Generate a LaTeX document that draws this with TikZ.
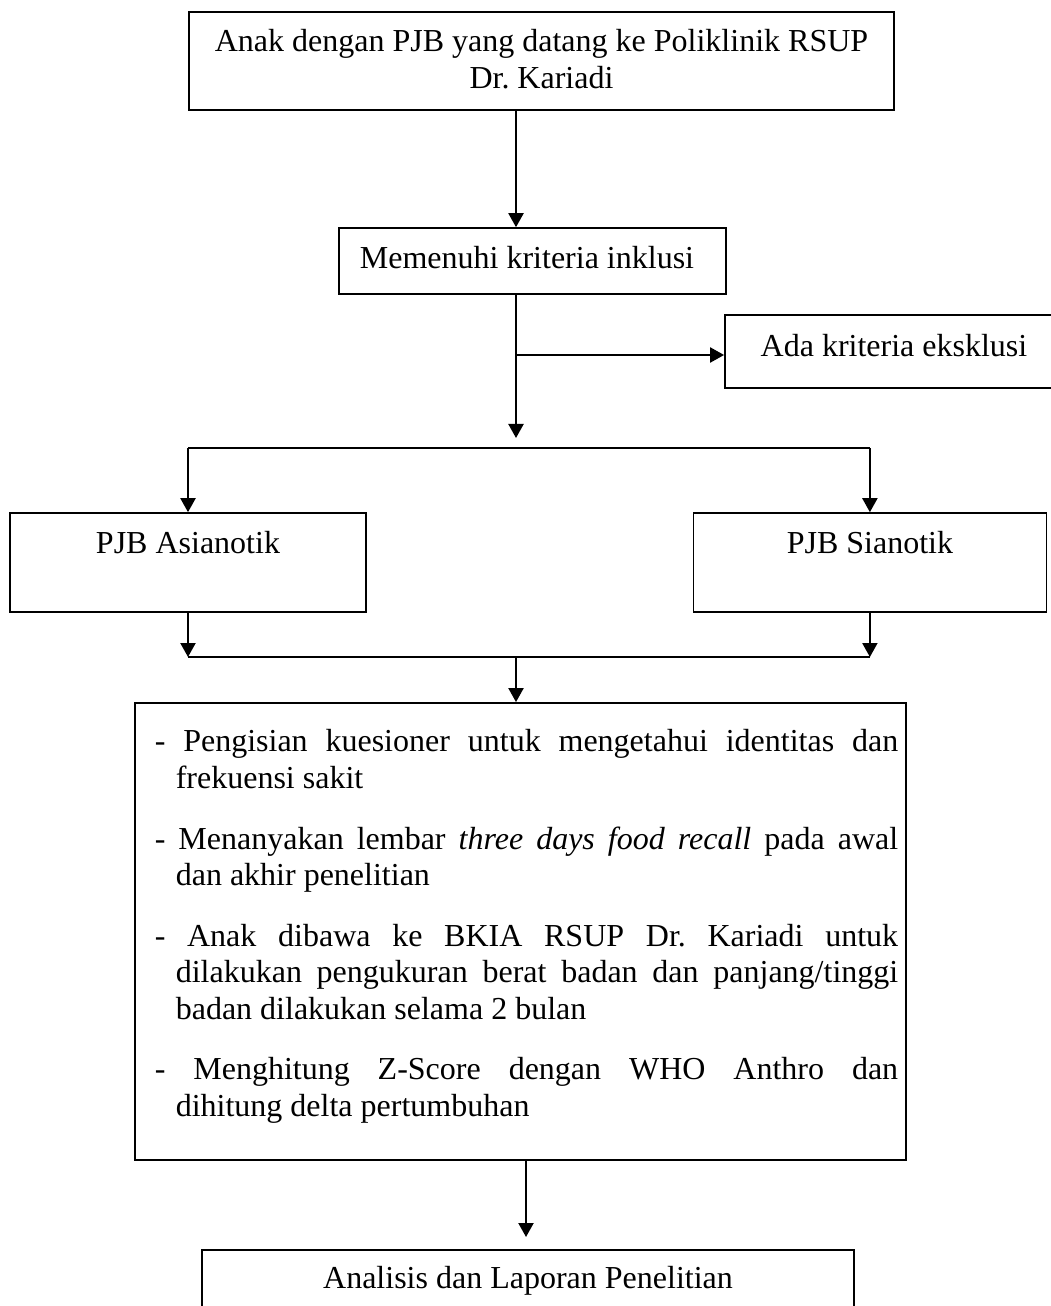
\documentclass[tikz,border=0pt]{standalone}
\usepackage{fontspec}
\setmainfont{Liberation Serif}
\usetikzlibrary{positioning,arrows.meta}
\tikzstyle{kotak} = [rectangle, draw, line width=0.45pt, inner sep=0pt, align=center]
\tikzstyle{panah} = [-{Triangle[length=0.14cm,width=0.15cm]}, black, line width=0.6pt]
\tikzstyle{garis} = [black, line width=0.6pt]
\newcommand{\butir}[1]{\hangindent=0.21cm\hangafter=1 - #1\par}
\frenchspacing

\begin{document}
\begin{tikzpicture}[x=0.01cm, y=-0.01cm, font=\fontsize{9.1pt}{10.4pt}\selectfont]
  \useasboundingbox (0,0) rectangle (1050,1306);
  % Place nodes
  \node [kotak, minimum width=7.05cm, text width=6.85cm, align=flush center, text height=0.40cm, text depth=0.58cm] (anak) at (541.5,61)
  {Anak dengan PJB yang datang ke Poliklinik RSUP\\ Dr. Kariadi};
  \node [kotak, minimum width=3.87cm, text width=3.45cm, align=flush left, text height=0.40cm, text depth=0.26cm] (inklusi) at (532.5,261) {Memenuhi kriteria inklusi};
  \node [kotak, minimum width=3.38cm, text height=0.41cm, text depth=0.32cm] (eksklusi) at (894,351.5) {Ada kriteria eksklusi};
  \node [kotak, minimum width=3.56cm, text height=0.40cm, text depth=0.59cm] (asianotik) at (188,562.5) {PJB Asianotik};
  \node [kotak, minimum width=3.53cm, text height=0.40cm, text depth=0.59cm, right of=asianotik, node distance=6.815cm] (sianotik) {PJB Sianotik};
  \node [kotak, minimum width=7.71cm, text width=7.71cm, align=justify, text height=0.49cm, text depth=4.08cm] (prosedur) at (520.5,931.5)
  {\setlength{\parindent}{0pt}\setlength{\parskip}{0.24cm}\leftskip=0.20cm\rightskip=0.08cm\hyphenpenalty=10000\emergencystretch=1em%
   \butir{Pengisian kuesioner untuk mengetahui identitas dan\linebreak frekuensi sakit}%
   \butir{Menanyakan lembar \textit{three days food recall} pada awal\linebreak dan akhir penelitian}%
   \butir{Anak dibawa ke BKIA RSUP Dr. Kariadi untuk\linebreak dilakukan pengukuran berat badan dan panjang/tinggi\linebreak badan dilakukan selama 2 bulan}%
   \butir{Menghitung Z-Score dengan WHO Anthro dan\linebreak dihitung delta pertumbuhan}};
  \node [kotak, minimum width=6.52cm, text height=0.38cm, text depth=0.62cm] (analisis) at (528,1300) {Analisis dan Laporan Penelitian};
  % Junction points
  \coordinate (sumbu) at (516,0);
  \coordinate (belok) at (516,355);
  \coordinate (ujung) at (516,438);
  \coordinate (bagi) at (516,448);
  \coordinate (gabung) at (516,657);
  \coordinate (akhir) at (526,1237);
  % Draw edges
  \draw [panah] (anak.south -| sumbu) -- (inklusi.north -| sumbu);
  \draw [panah] (inklusi.south -| sumbu) -- (ujung);
  \draw [panah] (belok) -- (eksklusi.west |- belok);
  \draw [garis] (asianotik.north |- bagi) -- (sianotik.north |- bagi);
  \draw [panah] (asianotik.north |- bagi) -- (asianotik.north);
  \draw [panah] (sianotik.north |- bagi) -- (sianotik.north);
  \draw [panah] (asianotik.south) -- (asianotik.south |- gabung);
  \draw [panah] (sianotik.south) -- (sianotik.south |- gabung);
  \draw [garis] (asianotik.south |- gabung) -- (sianotik.south |- gabung);
  \draw [panah] (gabung) -- (prosedur.north -| gabung);
  \draw [panah] (prosedur.south -| akhir) -- (akhir);
\end{tikzpicture}
\end{document}
